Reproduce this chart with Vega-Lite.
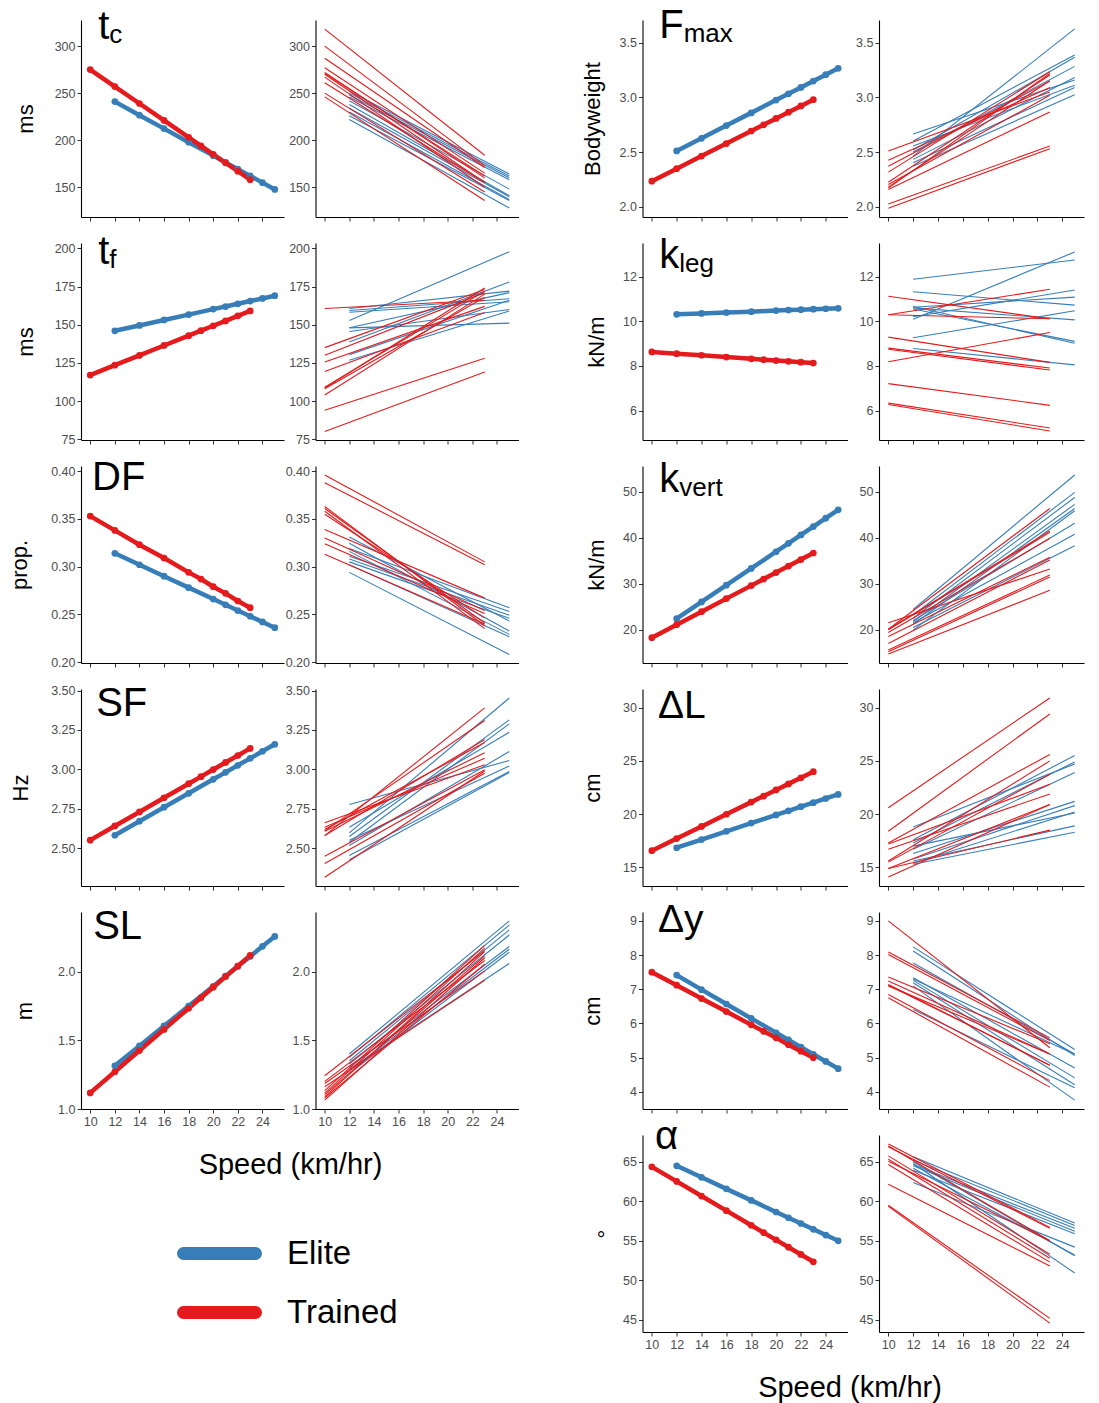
{
"$schema":"https://vega.github.io/schema/vega-lite/v6.json",
"background":"white",
"padding":{"left":8,"top":6,"right":5,"bottom":5},
"config":{
 "font":"Liberation Sans",
 "view":{"stroke":null},
 "axis":{"domainColor":"black","domainWidth":1.1,"tickColor":"#333333","tickSize":4,"tickWidth":1,"labelColor":"#4D4D4D","labelFontSize":12.5,"labelPadding":2,"grid":false,"titleFontWeight":"normal","titleColor":"black","titleFontSize":22,"labelFont":"Liberation Sans","titleFont":"Liberation Sans"},
 "axisY":{"titlePadding":14},
 "legend":{"orient":"none","legendX":96,"legendY":1204,"symbolType":"stroke","symbolStrokeWidth":13,"symbolSize":5184,"labelFontSize":33,"labelColor":"black","labelOffset":25,"rowPadding":0,"clipHeight":59,"labelFont":"Liberation Sans"},
 "title":{"fontWeight":"normal","font":"Liberation Sans","color":"black"}
},
"datasets":{
"tc_m":[{"g":"Elite","s":12,"v":241},{"g":"Elite","s":14,"v":226.6},{"g":"Elite","s":16,"v":212.3},{"g":"Elite","s":18,"v":197.9},{"g":"Elite","s":20,"v":183.6},{"g":"Elite","s":21,"v":176.4},{"g":"Elite","s":22,"v":169.2},{"g":"Elite","s":23,"v":162},{"g":"Elite","s":24,"v":154.9},{"g":"Elite","s":25,"v":147.7},
{"g":"Trained","s":10,"v":275},{"g":"Trained","s":12,"v":257},{"g":"Trained","s":14,"v":239},{"g":"Trained","s":16,"v":221},{"g":"Trained","s":18,"v":203},{"g":"Trained","s":19,"v":194},{"g":"Trained","s":20,"v":185},{"g":"Trained","s":21,"v":176},{"g":"Trained","s":22,"v":167},{"g":"Trained","s":23,"v":158}],
"tc_i":[{"g":"Elite","s0":12,"s1":25,"a":252,"b":164},{"g":"Elite","s0":12,"s1":25,"a":250,"b":162},{"g":"Elite","s0":12,"s1":25,"a":248,"b":160},{"g":"Elite","s0":12,"s1":25,"a":246,"b":158},{"g":"Elite","s0":12,"s1":25,"a":242,"b":148},{"g":"Elite","s0":12,"s1":25,"a":238,"b":141},{"g":"Elite","s0":12,"s1":25,"a":234,"b":140},{"g":"Elite","s0":12,"s1":25,"a":230,"b":137},{"g":"Elite","s0":12,"s1":25,"a":226,"b":136},{"g":"Elite","s0":12,"s1":25,"a":222,"b":128},
{"g":"Trained","s0":10,"s1":23,"a":318,"b":184},{"g":"Trained","s0":10,"s1":23,"a":300,"b":173},{"g":"Trained","s0":10,"s1":23,"a":287,"b":171},{"g":"Trained","s0":10,"s1":23,"a":277,"b":165},{"g":"Trained","s0":10,"s1":23,"a":272,"b":160},{"g":"Trained","s0":10,"s1":23,"a":270,"b":155},{"g":"Trained","s0":10,"s1":23,"a":267,"b":150},{"g":"Trained","s0":10,"s1":23,"a":261,"b":155},{"g":"Trained","s0":10,"s1":23,"a":250,"b":145},{"g":"Trained","s0":10,"s1":23,"a":246,"b":136},{"g":"Trained","s0":10,"s1":23,"a":271,"b":162}],
"tf_m":[{"g":"Elite","s":12,"v":146},{"g":"Elite","s":14,"v":149.5},{"g":"Elite","s":16,"v":153.1},{"g":"Elite","s":18,"v":156.6},{"g":"Elite","s":20,"v":160.2},{"g":"Elite","s":21,"v":161.9},{"g":"Elite","s":22,"v":163.7},{"g":"Elite","s":23,"v":165.5},{"g":"Elite","s":24,"v":167.2},{"g":"Elite","s":25,"v":169},
{"g":"Trained","s":10,"v":117},{"g":"Trained","s":12,"v":123.5},{"g":"Trained","s":14,"v":129.9},{"g":"Trained","s":16,"v":136.4},{"g":"Trained","s":18,"v":142.8},{"g":"Trained","s":19,"v":146.1},{"g":"Trained","s":20,"v":149.3},{"g":"Trained","s":21,"v":152.5},{"g":"Trained","s":22,"v":155.8},{"g":"Trained","s":23,"v":159}],
"tf_i":[{"g":"Elite","s0":12,"s1":25,"a":152.7,"b":197.8},{"g":"Elite","s0":12,"s1":25,"a":160.6,"b":172},{"g":"Elite","s0":12,"s1":25,"a":159.3,"b":167},{"g":"Elite","s0":12,"s1":25,"a":158.2,"b":165},{"g":"Elite","s0":12,"s1":25,"a":147.9,"b":151},{"g":"Elite","s0":12,"s1":25,"a":145.5,"b":160},{"g":"Elite","s0":12,"s1":25,"a":138.7,"b":178},{"g":"Elite","s0":12,"s1":25,"a":130.4,"b":166},{"g":"Elite","s0":12,"s1":25,"a":126.7,"b":159},{"g":"Elite","s0":12,"s1":25,"a":148,"b":171},
{"g":"Trained","s0":10,"s1":23,"a":160.6,"b":166},{"g":"Trained","s0":10,"s1":23,"a":135,"b":173},{"g":"Trained","s0":10,"s1":23,"a":130,"b":171},{"g":"Trained","s0":10,"s1":23,"a":125.6,"b":162},{"g":"Trained","s0":10,"s1":23,"a":119.4,"b":158},{"g":"Trained","s0":10,"s1":23,"a":109,"b":172},{"g":"Trained","s0":10,"s1":23,"a":108,"b":168},{"g":"Trained","s0":10,"s1":23,"a":104,"b":170},{"g":"Trained","s0":10,"s1":23,"a":94,"b":128},{"g":"Trained","s0":10,"s1":23,"a":80,"b":119},{"g":"Trained","s0":10,"s1":23,"a":108.5,"b":174}],
"df_m":[{"g":"Elite","s":12,"v":0.314},{"g":"Elite","s":14,"v":0.302},{"g":"Elite","s":16,"v":0.290},{"g":"Elite","s":18,"v":0.278},{"g":"Elite","s":20,"v":0.266},{"g":"Elite","s":21,"v":0.260},{"g":"Elite","s":22,"v":0.254},{"g":"Elite","s":23,"v":0.248},{"g":"Elite","s":24,"v":0.242},{"g":"Elite","s":25,"v":0.236},
{"g":"Trained","s":10,"v":0.353},{"g":"Trained","s":12,"v":0.338},{"g":"Trained","s":14,"v":0.323},{"g":"Trained","s":16,"v":0.309},{"g":"Trained","s":18,"v":0.294},{"g":"Trained","s":19,"v":0.287},{"g":"Trained","s":20,"v":0.279},{"g":"Trained","s":21,"v":0.272},{"g":"Trained","s":22,"v":0.264},{"g":"Trained","s":23,"v":0.257}],
"df_i":[{"g":"Elite","s0":12,"s1":25,"a":0.331,"b":0.243},{"g":"Elite","s0":12,"s1":25,"a":0.3245,"b":0.2325},{"g":"Elite","s0":12,"s1":25,"a":0.319,"b":0.257},{"g":"Elite","s0":12,"s1":25,"a":0.316,"b":0.229},{"g":"Elite","s0":12,"s1":25,"a":0.311,"b":0.253},{"g":"Elite","s0":12,"s1":25,"a":0.308,"b":0.249},{"g":"Elite","s0":12,"s1":25,"a":0.305,"b":0.246},{"g":"Elite","s0":12,"s1":25,"a":0.294,"b":0.208},{"g":"Elite","s0":12,"s1":25,"a":0.302,"b":0.2265},
{"g":"Trained","s0":10,"s1":23,"a":0.396,"b":0.305},{"g":"Trained","s0":10,"s1":23,"a":0.388,"b":0.302},{"g":"Trained","s0":10,"s1":23,"a":0.363,"b":0.238},{"g":"Trained","s0":10,"s1":23,"a":0.361,"b":0.241},{"g":"Trained","s0":10,"s1":23,"a":0.358,"b":0.235},{"g":"Trained","s0":10,"s1":23,"a":0.355,"b":0.246},{"g":"Trained","s0":10,"s1":23,"a":0.339,"b":0.267},{"g":"Trained","s0":10,"s1":23,"a":0.330,"b":0.254},{"g":"Trained","s0":10,"s1":23,"a":0.324,"b":0.251},{"g":"Trained","s0":10,"s1":23,"a":0.313,"b":0.240}],
"sf_m":[{"g":"Elite","s":12,"v":2.582},{"g":"Elite","s":14,"v":2.671},{"g":"Elite","s":16,"v":2.760},{"g":"Elite","s":18,"v":2.848},{"g":"Elite","s":20,"v":2.937},{"g":"Elite","s":21,"v":2.981},{"g":"Elite","s":22,"v":3.026},{"g":"Elite","s":23,"v":3.070},{"g":"Elite","s":24,"v":3.115},{"g":"Elite","s":25,"v":3.159},
{"g":"Trained","s":10,"v":2.551},{"g":"Trained","s":12,"v":2.641},{"g":"Trained","s":14,"v":2.730},{"g":"Trained","s":16,"v":2.820},{"g":"Trained","s":18,"v":2.909},{"g":"Trained","s":19,"v":2.954},{"g":"Trained","s":20,"v":2.999},{"g":"Trained","s":21,"v":3.044},{"g":"Trained","s":22,"v":3.088},{"g":"Trained","s":23,"v":3.133}],
"sf_i":[{"g":"Elite","s0":12,"s1":25,"a":2.777,"b":3.056},{"g":"Elite","s0":12,"s1":25,"a":2.633,"b":3.236},{"g":"Elite","s0":12,"s1":25,"a":2.597,"b":3.453},{"g":"Elite","s0":12,"s1":25,"a":2.574,"b":3.314},{"g":"Elite","s0":12,"s1":25,"a":2.538,"b":3.289},{"g":"Elite","s0":12,"s1":25,"a":2.517,"b":3.113},{"g":"Elite","s0":12,"s1":25,"a":2.453,"b":2.986},{"g":"Elite","s0":12,"s1":25,"a":2.426,"b":2.98},{"g":"Elite","s0":12,"s1":25,"a":2.55,"b":3.022},
{"g":"Trained","s0":10,"s1":23,"a":2.661,"b":3.03},{"g":"Trained","s0":10,"s1":23,"a":2.633,"b":3.07},{"g":"Trained","s0":10,"s1":23,"a":2.618,"b":3.17},{"g":"Trained","s0":10,"s1":23,"a":2.608,"b":3.105},{"g":"Trained","s0":10,"s1":23,"a":2.58,"b":3.39},{"g":"Trained","s0":10,"s1":23,"a":2.61,"b":3.31},{"g":"Trained","s0":10,"s1":23,"a":2.58,"b":3.19},{"g":"Trained","s0":10,"s1":23,"a":2.449,"b":2.997},{"g":"Trained","s0":10,"s1":23,"a":2.403,"b":2.976},{"g":"Trained","s0":10,"s1":23,"a":2.316,"b":2.99}],
"sl_m":[{"g":"Elite","s":12,"v":1.314},{"g":"Elite","s":14,"v":1.459},{"g":"Elite","s":16,"v":1.604},{"g":"Elite","s":18,"v":1.749},{"g":"Elite","s":20,"v":1.893},{"g":"Elite","s":21,"v":1.966},{"g":"Elite","s":22,"v":2.038},{"g":"Elite","s":23,"v":2.110},{"g":"Elite","s":24,"v":2.183},{"g":"Elite","s":25,"v":2.255},
{"g":"Trained","s":10,"v":1.117},{"g":"Trained","s":12,"v":1.271},{"g":"Trained","s":14,"v":1.425},{"g":"Trained","s":16,"v":1.579},{"g":"Trained","s":18,"v":1.733},{"g":"Trained","s":19,"v":1.809},{"g":"Trained","s":20,"v":1.886},{"g":"Trained","s":21,"v":1.963},{"g":"Trained","s":22,"v":2.040},{"g":"Trained","s":23,"v":2.117}],
"sl_i":[{"g":"Elite","s0":12,"s1":25,"a":1.40,"b":2.368},{"g":"Elite","s0":12,"s1":25,"a":1.375,"b":2.337},{"g":"Elite","s0":12,"s1":25,"a":1.351,"b":2.303},{"g":"Elite","s0":12,"s1":25,"a":1.327,"b":2.266},{"g":"Elite","s0":12,"s1":25,"a":1.303,"b":2.182},{"g":"Elite","s0":12,"s1":25,"a":1.278,"b":2.162},{"g":"Elite","s0":12,"s1":25,"a":1.259,"b":2.14},{"g":"Elite","s0":12,"s1":25,"a":1.29,"b":2.058},
{"g":"Trained","s0":10,"s1":23,"a":1.242,"b":2.15},{"g":"Trained","s0":10,"s1":23,"a":1.201,"b":2.08},{"g":"Trained","s0":10,"s1":23,"a":1.186,"b":2.005},{"g":"Trained","s0":10,"s1":23,"a":1.162,"b":1.937},{"g":"Trained","s0":10,"s1":23,"a":1.133,"b":2.19},{"g":"Trained","s0":10,"s1":23,"a":1.116,"b":2.17},{"g":"Trained","s0":10,"s1":23,"a":1.104,"b":2.114},{"g":"Trained","s0":10,"s1":23,"a":1.090,"b":2.145},{"g":"Trained","s0":10,"s1":23,"a":1.080,"b":2.053},{"g":"Trained","s0":10,"s1":23,"a":1.065,"b":2.10}],
"fm_m":[{"g":"Elite","s":12,"v":2.510},{"g":"Elite","s":14,"v":2.626},{"g":"Elite","s":16,"v":2.743},{"g":"Elite","s":18,"v":2.859},{"g":"Elite","s":20,"v":2.976},{"g":"Elite","s":21,"v":3.034},{"g":"Elite","s":22,"v":3.092},{"g":"Elite","s":23,"v":3.150},{"g":"Elite","s":24,"v":3.209},{"g":"Elite","s":25,"v":3.267},
{"g":"Trained","s":10,"v":2.233},{"g":"Trained","s":12,"v":2.348},{"g":"Trained","s":14,"v":2.463},{"g":"Trained","s":16,"v":2.578},{"g":"Trained","s":18,"v":2.693},{"g":"Trained","s":19,"v":2.750},{"g":"Trained","s":20,"v":2.808},{"g":"Trained","s":21,"v":2.865},{"g":"Trained","s":22,"v":2.923},{"g":"Trained","s":23,"v":2.980}],
"fm_i":[{"g":"Elite","s0":12,"s1":25,"a":2.666,"b":3.16},{"g":"Elite","s0":12,"s1":25,"a":2.601,"b":3.39},{"g":"Elite","s0":12,"s1":25,"a":2.555,"b":3.113},{"g":"Elite","s0":12,"s1":25,"a":2.518,"b":3.368},{"g":"Elite","s0":12,"s1":25,"a":2.463,"b":3.629},{"g":"Elite","s0":12,"s1":25,"a":2.433,"b":3.184},{"g":"Elite","s0":12,"s1":25,"a":2.402,"b":3.092},{"g":"Elite","s0":12,"s1":25,"a":2.371,"b":3.025},{"g":"Elite","s0":12,"s1":25,"a":2.50,"b":3.285},
{"g":"Trained","s0":10,"s1":23,"a":2.509,"b":3.05},{"g":"Trained","s0":10,"s1":23,"a":2.426,"b":3.092},{"g":"Trained","s0":10,"s1":23,"a":2.371,"b":3.15},{"g":"Trained","s0":10,"s1":23,"a":2.316,"b":3.236},{"g":"Trained","s0":10,"s1":23,"a":2.224,"b":3.206},{"g":"Trained","s0":10,"s1":23,"a":2.202,"b":3.02},{"g":"Trained","s0":10,"s1":23,"a":2.181,"b":3.153},{"g":"Trained","s0":10,"s1":23,"a":2.156,"b":2.868},{"g":"Trained","s0":10,"s1":23,"a":2.024,"b":2.555},{"g":"Trained","s0":10,"s1":23,"a":1.985,"b":2.531},{"g":"Trained","s0":10,"s1":23,"a":2.17,"b":3.22}],
"kl_m":[{"g":"Elite","s":12,"v":10.31},{"g":"Elite","s":14,"v":10.35},{"g":"Elite","s":16,"v":10.39},{"g":"Elite","s":18,"v":10.43},{"g":"Elite","s":20,"v":10.48},{"g":"Elite","s":21,"v":10.50},{"g":"Elite","s":22,"v":10.52},{"g":"Elite","s":23,"v":10.54},{"g":"Elite","s":24,"v":10.56},{"g":"Elite","s":25,"v":10.58},
{"g":"Trained","s":10,"v":8.63},{"g":"Trained","s":12,"v":8.55},{"g":"Trained","s":14,"v":8.48},{"g":"Trained","s":16,"v":8.40},{"g":"Trained","s":18,"v":8.32},{"g":"Trained","s":19,"v":8.28},{"g":"Trained","s":20,"v":8.24},{"g":"Trained","s":21,"v":8.21},{"g":"Trained","s":22,"v":8.17},{"g":"Trained","s":23,"v":8.13}],
"kl_i":[{"g":"Elite","s0":12,"s1":25,"a":11.88,"b":12.74},{"g":"Elite","s0":12,"s1":25,"a":10.09,"b":13.10},{"g":"Elite","s0":12,"s1":25,"a":11.32,"b":10.72},{"g":"Elite","s0":12,"s1":25,"a":10.66,"b":9.02},{"g":"Elite","s0":12,"s1":25,"a":10.63,"b":11.08},{"g":"Elite","s0":12,"s1":25,"a":10.2,"b":11.4},{"g":"Elite","s0":12,"s1":25,"a":10.55,"b":9.10},{"g":"Elite","s0":12,"s1":25,"a":10.6,"b":10.06},{"g":"Elite","s0":12,"s1":25,"a":9.26,"b":10.47},{"g":"Elite","s0":12,"s1":25,"a":8.78,"b":8.05},
{"g":"Trained","s0":10,"s1":23,"a":11.12,"b":10.11},{"g":"Trained","s0":10,"s1":23,"a":10.29,"b":11.43},{"g":"Trained","s0":10,"s1":23,"a":10.29,"b":10.11},{"g":"Trained","s0":10,"s1":23,"a":9.29,"b":8.16},{"g":"Trained","s0":10,"s1":23,"a":8.80,"b":7.91},{"g":"Trained","s0":10,"s1":23,"a":8.75,"b":7.82},{"g":"Trained","s0":10,"s1":23,"a":8.19,"b":9.50},{"g":"Trained","s0":10,"s1":23,"a":7.21,"b":6.24},{"g":"Trained","s0":10,"s1":23,"a":6.34,"b":5.23},{"g":"Trained","s0":10,"s1":23,"a":6.28,"b":5.09}],
"kv_m":[{"g":"Elite","s":12,"v":22.4},{"g":"Elite","s":14,"v":26.05},{"g":"Elite","s":16,"v":29.69},{"g":"Elite","s":18,"v":33.34},{"g":"Elite","s":20,"v":36.98},{"g":"Elite","s":21,"v":38.81},{"g":"Elite","s":22,"v":40.63},{"g":"Elite","s":23,"v":42.45},{"g":"Elite","s":24,"v":44.28},{"g":"Elite","s":25,"v":46.1},
{"g":"Trained","s":10,"v":18.26},{"g":"Trained","s":12,"v":21.10},{"g":"Trained","s":14,"v":23.93},{"g":"Trained","s":16,"v":26.77},{"g":"Trained","s":18,"v":29.60},{"g":"Trained","s":19,"v":31.02},{"g":"Trained","s":20,"v":32.44},{"g":"Trained","s":21,"v":33.86},{"g":"Trained","s":22,"v":35.28},{"g":"Trained","s":23,"v":36.70}],
"kv_i":[{"g":"Elite","s0":12,"s1":25,"a":24.4,"b":53.7},{"g":"Elite","s0":12,"s1":25,"a":23.2,"b":49.9},{"g":"Elite","s0":12,"s1":25,"a":22.5,"b":48.8},{"g":"Elite","s0":12,"s1":25,"a":21.8,"b":47.3},{"g":"Elite","s0":12,"s1":25,"a":21.2,"b":46.4},{"g":"Elite","s0":12,"s1":25,"a":19.9,"b":45.9},{"g":"Elite","s0":12,"s1":25,"a":22.0,"b":43.2},{"g":"Elite","s0":12,"s1":25,"a":21.5,"b":40.8},{"g":"Elite","s0":12,"s1":25,"a":20.5,"b":38.3},
{"g":"Trained","s0":10,"s1":23,"a":21.5,"b":33.2},{"g":"Trained","s0":10,"s1":23,"a":20.1,"b":46.4},{"g":"Trained","s0":10,"s1":23,"a":20.1,"b":41.5},{"g":"Trained","s0":10,"s1":23,"a":19.4,"b":39.9},{"g":"Trained","s0":10,"s1":23,"a":18.5,"b":35.8},{"g":"Trained","s0":10,"s1":23,"a":17.0,"b":35.2},{"g":"Trained","s0":10,"s1":23,"a":15.6,"b":31.9},{"g":"Trained","s0":10,"s1":23,"a":15.2,"b":31.5},{"g":"Trained","s0":10,"s1":23,"a":14.7,"b":28.6},{"g":"Trained","s0":10,"s1":23,"a":20.0,"b":41.2}],
"dl_m":[{"g":"Elite","s":12,"v":16.85},{"g":"Elite","s":14,"v":17.62},{"g":"Elite","s":16,"v":18.39},{"g":"Elite","s":18,"v":19.16},{"g":"Elite","s":20,"v":19.93},{"g":"Elite","s":21,"v":20.31},{"g":"Elite","s":22,"v":20.70},{"g":"Elite","s":23,"v":21.08},{"g":"Elite","s":24,"v":21.47},{"g":"Elite","s":25,"v":21.85},
{"g":"Trained","s":10,"v":16.57},{"g":"Trained","s":12,"v":17.71},{"g":"Trained","s":14,"v":18.85},{"g":"Trained","s":16,"v":19.99},{"g":"Trained","s":18,"v":21.13},{"g":"Trained","s":19,"v":21.70},{"g":"Trained","s":20,"v":22.27},{"g":"Trained","s":21,"v":22.84},{"g":"Trained","s":22,"v":23.41},{"g":"Trained","s":23,"v":23.98}],
"dl_i":[{"g":"Elite","s0":12,"s1":25,"a":18.8,"b":24.7},{"g":"Elite","s0":12,"s1":25,"a":17.6,"b":25.5},{"g":"Elite","s0":12,"s1":25,"a":17.3,"b":24.9},{"g":"Elite","s0":12,"s1":25,"a":16.7,"b":23.9},{"g":"Elite","s0":12,"s1":25,"a":16.3,"b":21.2},{"g":"Elite","s0":12,"s1":25,"a":15.8,"b":20.8},{"g":"Elite","s0":12,"s1":25,"a":15.4,"b":20.2},{"g":"Elite","s0":12,"s1":25,"a":17.0,"b":20.1},{"g":"Elite","s0":12,"s1":25,"a":15.6,"b":18.9},{"g":"Elite","s0":12,"s1":25,"a":15.3,"b":18.3},
{"g":"Trained","s0":10,"s1":23,"a":20.6,"b":30.9},{"g":"Trained","s0":10,"s1":23,"a":18.4,"b":29.4},{"g":"Trained","s0":10,"s1":23,"a":17.3,"b":25.6},{"g":"Trained","s0":10,"s1":23,"a":17.2,"b":22.8},{"g":"Trained","s0":10,"s1":23,"a":16.7,"b":21.9},{"g":"Trained","s0":10,"s1":23,"a":15.6,"b":25.0},{"g":"Trained","s0":10,"s1":23,"a":15.5,"b":23.75},{"g":"Trained","s0":10,"s1":23,"a":14.9,"b":20.9},{"g":"Trained","s0":10,"s1":23,"a":14.1,"b":20.9},{"g":"Trained","s0":10,"s1":23,"a":14.9,"b":18.5}],
"dy_m":[{"g":"Elite","s":12,"v":7.415},{"g":"Elite","s":14,"v":6.99},{"g":"Elite","s":16,"v":6.57},{"g":"Elite","s":18,"v":6.15},{"g":"Elite","s":20,"v":5.73},{"g":"Elite","s":21,"v":5.52},{"g":"Elite","s":22,"v":5.31},{"g":"Elite","s":23,"v":5.10},{"g":"Elite","s":24,"v":4.89},{"g":"Elite","s":25,"v":4.68},
{"g":"Trained","s":10,"v":7.50},{"g":"Trained","s":12,"v":7.12},{"g":"Trained","s":14,"v":6.73},{"g":"Trained","s":16,"v":6.35},{"g":"Trained","s":18,"v":5.96},{"g":"Trained","s":19,"v":5.77},{"g":"Trained","s":20,"v":5.58},{"g":"Trained","s":21,"v":5.38},{"g":"Trained","s":22,"v":5.19},{"g":"Trained","s":23,"v":5.00}],
"dy_i":[{"g":"Elite","s0":12,"s1":25,"a":8.24,"b":5.24},{"g":"Elite","s0":12,"s1":25,"a":8.12,"b":5.06},{"g":"Elite","s0":12,"s1":25,"a":7.77,"b":5.11},{"g":"Elite","s0":12,"s1":25,"a":7.34,"b":4.70},{"g":"Elite","s0":12,"s1":25,"a":7.26,"b":4.41},{"g":"Elite","s0":12,"s1":25,"a":7.19,"b":4.21},{"g":"Elite","s0":12,"s1":25,"a":6.41,"b":4.12},{"g":"Elite","s0":12,"s1":25,"a":7.10,"b":3.76},{"g":"Elite","s0":12,"s1":25,"a":7.30,"b":5.10},
{"g":"Trained","s0":10,"s1":23,"a":9.0,"b":5.29},{"g":"Trained","s0":10,"s1":23,"a":8.09,"b":5.58},{"g":"Trained","s0":10,"s1":23,"a":8.02,"b":5.50},{"g":"Trained","s0":10,"s1":23,"a":7.36,"b":5.41},{"g":"Trained","s0":10,"s1":23,"a":7.24,"b":5.11},{"g":"Trained","s0":10,"s1":23,"a":7.14,"b":4.78},{"g":"Trained","s0":10,"s1":23,"a":7.10,"b":5.11},{"g":"Trained","s0":10,"s1":23,"a":6.85,"b":4.33},{"g":"Trained","s0":10,"s1":23,"a":6.75,"b":4.14},{"g":"Trained","s0":10,"s1":23,"a":7.12,"b":4.78}],
"al_m":[{"g":"Elite","s":12,"v":64.5},{"g":"Elite","s":14,"v":63.04},{"g":"Elite","s":16,"v":61.58},{"g":"Elite","s":18,"v":60.12},{"g":"Elite","s":20,"v":58.65},{"g":"Elite","s":21,"v":57.92},{"g":"Elite","s":22,"v":57.19},{"g":"Elite","s":23,"v":56.46},{"g":"Elite","s":24,"v":55.73},{"g":"Elite","s":25,"v":55.0},
{"g":"Trained","s":10,"v":64.37},{"g":"Trained","s":12,"v":62.52},{"g":"Trained","s":14,"v":60.67},{"g":"Trained","s":16,"v":58.82},{"g":"Trained","s":18,"v":56.97},{"g":"Trained","s":19,"v":56.04},{"g":"Trained","s":20,"v":55.12},{"g":"Trained","s":21,"v":54.19},{"g":"Trained","s":22,"v":53.27},{"g":"Trained","s":23,"v":52.34}],
"al_i":[{"g":"Elite","s0":12,"s1":25,"a":65.64,"b":57.25},{"g":"Elite","s0":12,"s1":25,"a":65.21,"b":56.95},{"g":"Elite","s0":12,"s1":25,"a":64.66,"b":56.6},{"g":"Elite","s0":12,"s1":25,"a":64.5,"b":56.2},{"g":"Elite","s0":12,"s1":25,"a":63.94,"b":55.9},{"g":"Elite","s0":12,"s1":25,"a":62.37,"b":54.2},{"g":"Elite","s0":12,"s1":25,"a":64.2,"b":53.2},{"g":"Elite","s0":12,"s1":25,"a":64.8,"b":50.93},{"g":"Elite","s0":12,"s1":25,"a":65.0,"b":53.1},
{"g":"Trained","s0":10,"s1":23,"a":67.25,"b":56.7},{"g":"Trained","s0":10,"s1":23,"a":67.0,"b":55.0},{"g":"Trained","s0":10,"s1":23,"a":65.76,"b":53.3},{"g":"Trained","s0":10,"s1":23,"a":65.34,"b":52.8},{"g":"Trained","s0":10,"s1":23,"a":65.08,"b":55.0},{"g":"Trained","s0":10,"s1":23,"a":64.66,"b":52.3},{"g":"Trained","s0":10,"s1":23,"a":62.16,"b":51.8},{"g":"Trained","s0":10,"s1":23,"a":59.5,"b":45.17},{"g":"Trained","s0":10,"s1":23,"a":59.36,"b":44.58},{"g":"Trained","s0":10,"s1":23,"a":66.9,"b":56.6}]
},
"columns":5,
"spacing":{"row":26,"column":31.5},
"bounds":"flush",
"concat":[
  {"width":203,"height":197,"data":{"name":"tc_m"},
   "layer":[
    {"mark":{"type":"line","strokeWidth":4.5},"encoding":{"x":{"field":"s","type":"quantitative","scale":{"domain":[9.25,25.75],"nice":false,"zero":false},"axis":{"values":[10,12,14,16,18,20,22,24],"labels":false,"title":null}},"y":{"field":"v","type":"quantitative","scale":{"domain":[118.4,327.7],"nice":false,"zero":false},"axis":{"values":[150,200,250,300],"title":"ms","titlePadding":17}},"color":{"field":"g","type":"nominal","title":null,"scale":{"domain":["Elite","Trained"],"range":["#377EB8","#E41A1C"]},"legend":{"encode":{"symbols":{"update":{"strokeCap":{"value":"round"}}}}}}}},
    {"mark":{"type":"point","filled":true,"size":45,"opacity":1},"encoding":{"x":{"field":"s","type":"quantitative","scale":{"domain":[9.25,25.75],"nice":false,"zero":false},"axis":{"values":[10,12,14,16,18,20,22,24],"labels":false,"title":null}},"y":{"field":"v","type":"quantitative","scale":{"domain":[118.4,327.7],"nice":false,"zero":false},"axis":{"values":[150,200,250,300],"title":"ms","titlePadding":17}},"color":{"field":"g","type":"nominal","title":null}}},
    {"data":{"values":[{"t":"t"}]},"mark":{"type":"text","fontSize":40,"align":"left","baseline":"alphabetic","color":"black"},"encoding":{"x":{"datum":10.65,"type":"quantitative","scale":{"domain":[9.25,25.75],"nice":false,"zero":false},"axis":{"values":[10,12,14,16,18,20,22,24],"labels":false,"title":null}},"y":{"datum":307.5,"type":"quantitative","scale":{"domain":[118.4,327.7],"nice":false,"zero":false},"axis":{"values":[150,200,250,300],"title":"ms","titlePadding":17}},"text":{"field":"t","type":"nominal"}}},
    {"data":{"values":[{"t":"c"}]},"mark":{"type":"text","fontSize":26,"align":"left","baseline":"alphabetic","dx":11.1,"dy":4,"color":"black"},"encoding":{"x":{"datum":10.65,"type":"quantitative","scale":{"domain":[9.25,25.75],"nice":false,"zero":false},"axis":{"values":[10,12,14,16,18,20,22,24],"labels":false,"title":null}},"y":{"datum":307.5,"type":"quantitative","scale":{"domain":[118.4,327.7],"nice":false,"zero":false},"axis":{"values":[150,200,250,300],"title":"ms","titlePadding":17}},"text":{"field":"t","type":"nominal"}}}
   ]},
  {"width":203,"height":197,"data":{"name":"tc_i"},"mark":{"type":"rule","strokeWidth":1.1},
   "encoding":{"x":{"field":"s0","type":"quantitative","scale":{"domain":[9.25,25.75],"nice":false,"zero":false},"axis":{"values":[10,12,14,16,18,20,22,24],"labels":false,"title":null}},"x2":{"field":"s1"},
    "y":{"field":"a","type":"quantitative","scale":{"domain":[118.4,327.7],"nice":false,"zero":false},"axis":{"values":[150,200,250,300],"title":null}},"y2":{"field":"b"},
    "color":{"field":"g","type":"nominal","title":null,"scale":{"domain":["Elite","Trained"],"range":["#377EB8","#E41A1C"]}}}},
  {"width":61,"height":197,"data":{"values":[]},"mark":{"type":"point","opacity":0}},
  {"width":205,"height":197,"data":{"name":"fm_m"},
   "layer":[
    {"mark":{"type":"line","strokeWidth":4.5},"encoding":{"x":{"field":"s","type":"quantitative","scale":{"domain":[9.25,25.75],"nice":false,"zero":false},"axis":{"values":[10,12,14,16,18,20,22,24],"labels":false,"title":null}},"y":{"field":"v","type":"quantitative","scale":{"domain":[1.905,3.71],"nice":false,"zero":false},"axis":{"values":[2,2.5,3,3.5],"format":".1f","title":"Bodyweight","titlePadding":15}},"color":{"field":"g","type":"nominal","title":null,"scale":{"domain":["Elite","Trained"],"range":["#377EB8","#E41A1C"]}}}},
    {"mark":{"type":"point","filled":true,"size":45,"opacity":1},"encoding":{"x":{"field":"s","type":"quantitative","scale":{"domain":[9.25,25.75],"nice":false,"zero":false},"axis":{"values":[10,12,14,16,18,20,22,24],"labels":false,"title":null}},"y":{"field":"v","type":"quantitative","scale":{"domain":[1.905,3.71],"nice":false,"zero":false},"axis":{"values":[2,2.5,3,3.5],"format":".1f","title":"Bodyweight","titlePadding":15}},"color":{"field":"g","type":"nominal","title":null}}},
    {"data":{"values":[{"t":"F"}]},"mark":{"type":"text","fontSize":40,"align":"left","baseline":"alphabetic","color":"black"},"encoding":{"x":{"datum":10.6,"type":"quantitative","scale":{"domain":[9.25,25.75],"nice":false,"zero":false},"axis":{"values":[10,12,14,16,18,20,22,24],"labels":false,"title":null}},"y":{"datum":3.545,"type":"quantitative","scale":{"domain":[1.905,3.71],"nice":false,"zero":false},"axis":{"values":[2,2.5,3,3.5],"format":".1f","title":"Bodyweight","titlePadding":15}},"text":{"field":"t","type":"nominal"}}},
    {"data":{"values":[{"t":"max"}]},"mark":{"type":"text","fontSize":26,"align":"left","baseline":"alphabetic","dx":24.4,"dy":4,"color":"black"},"encoding":{"x":{"datum":10.6,"type":"quantitative","scale":{"domain":[9.25,25.75],"nice":false,"zero":false},"axis":{"values":[10,12,14,16,18,20,22,24],"labels":false,"title":null}},"y":{"datum":3.545,"type":"quantitative","scale":{"domain":[1.905,3.71],"nice":false,"zero":false},"axis":{"values":[2,2.5,3,3.5],"format":".1f","title":"Bodyweight","titlePadding":15}},"text":{"field":"t","type":"nominal"}}}
   ]},
  {"width":205,"height":197,"data":{"name":"fm_i"},"mark":{"type":"rule","strokeWidth":1.1},
   "encoding":{"x":{"field":"s0","type":"quantitative","scale":{"domain":[9.25,25.75],"nice":false,"zero":false},"axis":{"values":[10,12,14,16,18,20,22,24],"labels":false,"title":null}},"x2":{"field":"s1"},
    "y":{"field":"a","type":"quantitative","scale":{"domain":[1.905,3.71],"nice":false,"zero":false},"axis":{"values":[2,2.5,3,3.5],"format":".1f","title":null}},"y2":{"field":"b"},
    "color":{"field":"g","type":"nominal","title":null,"scale":{"domain":["Elite","Trained"],"range":["#377EB8","#E41A1C"]}}}},

  {"width":203,"height":197,"data":{"name":"tf_m"},
   "layer":[
    {"mark":{"type":"line","strokeWidth":4.5},"encoding":{"x":{"field":"s","type":"quantitative","scale":{"domain":[9.25,25.75],"nice":false,"zero":false},"axis":{"values":[10,12,14,16,18,20,22,24],"labels":false,"title":null}},"y":{"field":"v","type":"quantitative","scale":{"domain":[74.5,203.5],"nice":false,"zero":false},"axis":{"values":[75,100,125,150,175,200],"title":"ms","titlePadding":17}},"color":{"field":"g","type":"nominal","title":null,"scale":{"domain":["Elite","Trained"],"range":["#377EB8","#E41A1C"]}}}},
    {"mark":{"type":"point","filled":true,"size":45,"opacity":1},"encoding":{"x":{"field":"s","type":"quantitative","scale":{"domain":[9.25,25.75],"nice":false,"zero":false},"axis":{"values":[10,12,14,16,18,20,22,24],"labels":false,"title":null}},"y":{"field":"v","type":"quantitative","scale":{"domain":[74.5,203.5],"nice":false,"zero":false},"axis":{"values":[75,100,125,150,175,200],"title":"ms","titlePadding":17}},"color":{"field":"g","type":"nominal","title":null}}},
    {"data":{"values":[{"t":"t"}]},"mark":{"type":"text","fontSize":40,"align":"left","baseline":"alphabetic","color":"black"},"encoding":{"x":{"datum":10.65,"type":"quantitative","scale":{"domain":[9.25,25.75],"nice":false,"zero":false},"axis":{"values":[10,12,14,16,18,20,22,24],"labels":false,"title":null}},"y":{"datum":189.75,"type":"quantitative","scale":{"domain":[74.5,203.5],"nice":false,"zero":false},"axis":{"values":[75,100,125,150,175,200],"title":"ms","titlePadding":17}},"text":{"field":"t","type":"nominal"}}},
    {"data":{"values":[{"t":"f"}]},"mark":{"type":"text","fontSize":26,"align":"left","baseline":"alphabetic","dx":11.1,"dy":4,"color":"black"},"encoding":{"x":{"datum":10.65,"type":"quantitative","scale":{"domain":[9.25,25.75],"nice":false,"zero":false},"axis":{"values":[10,12,14,16,18,20,22,24],"labels":false,"title":null}},"y":{"datum":189.75,"type":"quantitative","scale":{"domain":[74.5,203.5],"nice":false,"zero":false},"axis":{"values":[75,100,125,150,175,200],"title":"ms","titlePadding":17}},"text":{"field":"t","type":"nominal"}}}
   ]},
  {"width":203,"height":197,"data":{"name":"tf_i"},"mark":{"type":"rule","strokeWidth":1.1},
   "encoding":{"x":{"field":"s0","type":"quantitative","scale":{"domain":[9.25,25.75],"nice":false,"zero":false},"axis":{"values":[10,12,14,16,18,20,22,24],"labels":false,"title":null}},"x2":{"field":"s1"},
    "y":{"field":"a","type":"quantitative","scale":{"domain":[74.5,203.5],"nice":false,"zero":false},"axis":{"values":[75,100,125,150,175,200],"title":null}},"y2":{"field":"b"},
    "color":{"field":"g","type":"nominal","title":null,"scale":{"domain":["Elite","Trained"],"range":["#377EB8","#E41A1C"]}}}},
  {"width":61,"height":197,"data":{"values":[]},"mark":{"type":"point","opacity":0}},
  {"width":205,"height":197,"data":{"name":"kl_m"},
   "layer":[
    {"mark":{"type":"line","strokeWidth":4.5},"encoding":{"x":{"field":"s","type":"quantitative","scale":{"domain":[9.25,25.75],"nice":false,"zero":false},"axis":{"values":[10,12,14,16,18,20,22,24],"labels":false,"title":null}},"y":{"field":"v","type":"quantitative","scale":{"domain":[4.69,13.5],"nice":false,"zero":false},"axis":{"values":[6,8,10,12],"title":"kN/m"}},"color":{"field":"g","type":"nominal","title":null,"scale":{"domain":["Elite","Trained"],"range":["#377EB8","#E41A1C"]}}}},
    {"mark":{"type":"point","filled":true,"size":45,"opacity":1},"encoding":{"x":{"field":"s","type":"quantitative","scale":{"domain":[9.25,25.75],"nice":false,"zero":false},"axis":{"values":[10,12,14,16,18,20,22,24],"labels":false,"title":null}},"y":{"field":"v","type":"quantitative","scale":{"domain":[4.69,13.5],"nice":false,"zero":false},"axis":{"values":[6,8,10,12],"title":"kN/m"}},"color":{"field":"g","type":"nominal","title":null}}},
    {"data":{"values":[{"t":"k"}]},"mark":{"type":"text","fontSize":40,"align":"left","baseline":"alphabetic","color":"black"},"encoding":{"x":{"datum":10.6,"type":"quantitative","scale":{"domain":[9.25,25.75],"nice":false,"zero":false},"axis":{"values":[10,12,14,16,18,20,22,24],"labels":false,"title":null}},"y":{"datum":12.38,"type":"quantitative","scale":{"domain":[4.69,13.5],"nice":false,"zero":false},"axis":{"values":[6,8,10,12],"title":"kN/m"}},"text":{"field":"t","type":"nominal"}}},
    {"data":{"values":[{"t":"leg"}]},"mark":{"type":"text","fontSize":26,"align":"left","baseline":"alphabetic","dx":20,"dy":4,"color":"black"},"encoding":{"x":{"datum":10.6,"type":"quantitative","scale":{"domain":[9.25,25.75],"nice":false,"zero":false},"axis":{"values":[10,12,14,16,18,20,22,24],"labels":false,"title":null}},"y":{"datum":12.38,"type":"quantitative","scale":{"domain":[4.69,13.5],"nice":false,"zero":false},"axis":{"values":[6,8,10,12],"title":"kN/m"}},"text":{"field":"t","type":"nominal"}}}
   ]},
  {"width":205,"height":197,"data":{"name":"kl_i"},"mark":{"type":"rule","strokeWidth":1.1},
   "encoding":{"x":{"field":"s0","type":"quantitative","scale":{"domain":[9.25,25.75],"nice":false,"zero":false},"axis":{"values":[10,12,14,16,18,20,22,24],"labels":false,"title":null}},"x2":{"field":"s1"},
    "y":{"field":"a","type":"quantitative","scale":{"domain":[4.69,13.5],"nice":false,"zero":false},"axis":{"values":[6,8,10,12],"title":null}},"y2":{"field":"b"},
    "color":{"field":"g","type":"nominal","title":null,"scale":{"domain":["Elite","Trained"],"range":["#377EB8","#E41A1C"]}}}},

  {"width":203,"height":197,"data":{"name":"df_m"},
   "layer":[
    {"mark":{"type":"line","strokeWidth":4.5},"encoding":{"x":{"field":"s","type":"quantitative","scale":{"domain":[9.25,25.75],"nice":false,"zero":false},"axis":{"values":[10,12,14,16,18,20,22,24],"labels":false,"title":null}},"y":{"field":"v","type":"quantitative","scale":{"domain":[0.199,0.4055],"nice":false,"zero":false},"axis":{"values":[0.2,0.25,0.3,0.35,0.4],"format":".2f","title":"prop.","titlePadding":19}},"color":{"field":"g","type":"nominal","title":null,"scale":{"domain":["Elite","Trained"],"range":["#377EB8","#E41A1C"]}}}},
    {"mark":{"type":"point","filled":true,"size":45,"opacity":1},"encoding":{"x":{"field":"s","type":"quantitative","scale":{"domain":[9.25,25.75],"nice":false,"zero":false},"axis":{"values":[10,12,14,16,18,20,22,24],"labels":false,"title":null}},"y":{"field":"v","type":"quantitative","scale":{"domain":[0.199,0.4055],"nice":false,"zero":false},"axis":{"values":[0.2,0.25,0.3,0.35,0.4],"format":".2f","title":"prop.","titlePadding":19}},"color":{"field":"g","type":"nominal","title":null}}},
    {"data":{"values":[{"t":"DF"}]},"mark":{"type":"text","fontSize":40,"align":"left","baseline":"alphabetic","color":"black"},"encoding":{"x":{"datum":10.15,"type":"quantitative","scale":{"domain":[9.25,25.75],"nice":false,"zero":false},"axis":{"values":[10,12,14,16,18,20,22,24],"labels":false,"title":null}},"y":{"datum":0.3803,"type":"quantitative","scale":{"domain":[0.199,0.4055],"nice":false,"zero":false},"axis":{"values":[0.2,0.25,0.3,0.35,0.4],"format":".2f","title":"prop.","titlePadding":19}},"text":{"field":"t","type":"nominal"}}}
   ]},
  {"width":203,"height":197,"data":{"name":"df_i"},"mark":{"type":"rule","strokeWidth":1.1},
   "encoding":{"x":{"field":"s0","type":"quantitative","scale":{"domain":[9.25,25.75],"nice":false,"zero":false},"axis":{"values":[10,12,14,16,18,20,22,24],"labels":false,"title":null}},"x2":{"field":"s1"},
    "y":{"field":"a","type":"quantitative","scale":{"domain":[0.199,0.4055],"nice":false,"zero":false},"axis":{"values":[0.2,0.25,0.3,0.35,0.4],"format":".2f","title":null}},"y2":{"field":"b"},
    "color":{"field":"g","type":"nominal","title":null,"scale":{"domain":["Elite","Trained"],"range":["#377EB8","#E41A1C"]}}}},
  {"width":61,"height":197,"data":{"values":[]},"mark":{"type":"point","opacity":0}},
  {"width":205,"height":197,"data":{"name":"kv_m"},
   "layer":[
    {"mark":{"type":"line","strokeWidth":4.5},"encoding":{"x":{"field":"s","type":"quantitative","scale":{"domain":[9.25,25.75],"nice":false,"zero":false},"axis":{"values":[10,12,14,16,18,20,22,24],"labels":false,"title":null}},"y":{"field":"v","type":"quantitative","scale":{"domain":[12.75,55.65],"nice":false,"zero":false},"axis":{"values":[20,30,40,50],"title":"kN/m"}},"color":{"field":"g","type":"nominal","title":null,"scale":{"domain":["Elite","Trained"],"range":["#377EB8","#E41A1C"]}}}},
    {"mark":{"type":"point","filled":true,"size":45,"opacity":1},"encoding":{"x":{"field":"s","type":"quantitative","scale":{"domain":[9.25,25.75],"nice":false,"zero":false},"axis":{"values":[10,12,14,16,18,20,22,24],"labels":false,"title":null}},"y":{"field":"v","type":"quantitative","scale":{"domain":[12.75,55.65],"nice":false,"zero":false},"axis":{"values":[20,30,40,50],"title":"kN/m"}},"color":{"field":"g","type":"nominal","title":null}}},
    {"data":{"values":[{"t":"k"}]},"mark":{"type":"text","fontSize":40,"align":"left","baseline":"alphabetic","color":"black"},"encoding":{"x":{"datum":10.6,"type":"quantitative","scale":{"domain":[9.25,25.75],"nice":false,"zero":false},"axis":{"values":[10,12,14,16,18,20,22,24],"labels":false,"title":null}},"y":{"datum":49.99,"type":"quantitative","scale":{"domain":[12.75,55.65],"nice":false,"zero":false},"axis":{"values":[20,30,40,50],"title":"kN/m"}},"text":{"field":"t","type":"nominal"}}},
    {"data":{"values":[{"t":"vert"}]},"mark":{"type":"text","fontSize":26,"align":"left","baseline":"alphabetic","dx":20,"dy":4,"color":"black"},"encoding":{"x":{"datum":10.6,"type":"quantitative","scale":{"domain":[9.25,25.75],"nice":false,"zero":false},"axis":{"values":[10,12,14,16,18,20,22,24],"labels":false,"title":null}},"y":{"datum":49.99,"type":"quantitative","scale":{"domain":[12.75,55.65],"nice":false,"zero":false},"axis":{"values":[20,30,40,50],"title":"kN/m"}},"text":{"field":"t","type":"nominal"}}}
   ]},
  {"width":205,"height":197,"data":{"name":"kv_i"},"mark":{"type":"rule","strokeWidth":1.1},
   "encoding":{"x":{"field":"s0","type":"quantitative","scale":{"domain":[9.25,25.75],"nice":false,"zero":false},"axis":{"values":[10,12,14,16,18,20,22,24],"labels":false,"title":null}},"x2":{"field":"s1"},
    "y":{"field":"a","type":"quantitative","scale":{"domain":[12.75,55.65],"nice":false,"zero":false},"axis":{"values":[20,30,40,50],"title":null}},"y2":{"field":"b"},
    "color":{"field":"g","type":"nominal","title":null,"scale":{"domain":["Elite","Trained"],"range":["#377EB8","#E41A1C"]}}}},

  {"width":203,"height":197,"data":{"name":"sf_m"},
   "layer":[
    {"mark":{"type":"line","strokeWidth":4.5},"encoding":{"x":{"field":"s","type":"quantitative","scale":{"domain":[9.25,25.75],"nice":false,"zero":false},"axis":{"values":[10,12,14,16,18,20,22,24],"labels":false,"title":null}},"y":{"field":"v","type":"quantitative","scale":{"domain":[2.26,3.51],"nice":false,"zero":false},"axis":{"values":[2.5,2.75,3,3.25,3.5],"format":".2f","title":"Hz","titlePadding":18}},"color":{"field":"g","type":"nominal","title":null,"scale":{"domain":["Elite","Trained"],"range":["#377EB8","#E41A1C"]}}}},
    {"mark":{"type":"point","filled":true,"size":45,"opacity":1},"encoding":{"x":{"field":"s","type":"quantitative","scale":{"domain":[9.25,25.75],"nice":false,"zero":false},"axis":{"values":[10,12,14,16,18,20,22,24],"labels":false,"title":null}},"y":{"field":"v","type":"quantitative","scale":{"domain":[2.26,3.51],"nice":false,"zero":false},"axis":{"values":[2.5,2.75,3,3.25,3.5],"format":".2f","title":"Hz","titlePadding":18}},"color":{"field":"g","type":"nominal","title":null}}},
    {"data":{"values":[{"t":"SF"}]},"mark":{"type":"text","fontSize":40,"align":"left","baseline":"alphabetic","color":"black"},"encoding":{"x":{"datum":10.48,"type":"quantitative","scale":{"domain":[9.25,25.75],"nice":false,"zero":false},"axis":{"values":[10,12,14,16,18,20,22,24],"labels":false,"title":null}},"y":{"datum":3.339,"type":"quantitative","scale":{"domain":[2.26,3.51],"nice":false,"zero":false},"axis":{"values":[2.5,2.75,3,3.25,3.5],"format":".2f","title":"Hz","titlePadding":18}},"text":{"field":"t","type":"nominal"}}}
   ]},
  {"width":203,"height":197,"data":{"name":"sf_i"},"mark":{"type":"rule","strokeWidth":1.1},
   "encoding":{"x":{"field":"s0","type":"quantitative","scale":{"domain":[9.25,25.75],"nice":false,"zero":false},"axis":{"values":[10,12,14,16,18,20,22,24],"labels":false,"title":null}},"x2":{"field":"s1"},
    "y":{"field":"a","type":"quantitative","scale":{"domain":[2.26,3.51],"nice":false,"zero":false},"axis":{"values":[2.5,2.75,3,3.25,3.5],"format":".2f","title":null}},"y2":{"field":"b"},
    "color":{"field":"g","type":"nominal","title":null,"scale":{"domain":["Elite","Trained"],"range":["#377EB8","#E41A1C"]}}}},
  {"width":61,"height":197,"data":{"values":[]},"mark":{"type":"point","opacity":0}},
  {"width":205,"height":197,"data":{"name":"dl_m"},
   "layer":[
    {"mark":{"type":"line","strokeWidth":4.5},"encoding":{"x":{"field":"s","type":"quantitative","scale":{"domain":[9.25,25.75],"nice":false,"zero":false},"axis":{"values":[10,12,14,16,18,20,22,24],"labels":false,"title":null}},"y":{"field":"v","type":"quantitative","scale":{"domain":[13.26,31.74],"nice":false,"zero":false},"axis":{"values":[15,20,25,30],"title":"cm","titlePadding":18}},"color":{"field":"g","type":"nominal","title":null,"scale":{"domain":["Elite","Trained"],"range":["#377EB8","#E41A1C"]}}}},
    {"mark":{"type":"point","filled":true,"size":45,"opacity":1},"encoding":{"x":{"field":"s","type":"quantitative","scale":{"domain":[9.25,25.75],"nice":false,"zero":false},"axis":{"values":[10,12,14,16,18,20,22,24],"labels":false,"title":null}},"y":{"field":"v","type":"quantitative","scale":{"domain":[13.26,31.74],"nice":false,"zero":false},"axis":{"values":[15,20,25,30],"title":"cm","titlePadding":18}},"color":{"field":"g","type":"nominal","title":null}}},
    {"data":{"values":[{"t":"ΔL"}]},"mark":{"type":"text","fontSize":39,"align":"left","baseline":"alphabetic","color":"black"},"encoding":{"x":{"datum":10.49,"type":"quantitative","scale":{"domain":[9.25,25.75],"nice":false,"zero":false},"axis":{"values":[10,12,14,16,18,20,22,24],"labels":false,"title":null}},"y":{"datum":29.02,"type":"quantitative","scale":{"domain":[13.26,31.74],"nice":false,"zero":false},"axis":{"values":[15,20,25,30],"title":"cm","titlePadding":18}},"text":{"field":"t","type":"nominal"}}}
   ]},
  {"width":205,"height":197,"data":{"name":"dl_i"},"mark":{"type":"rule","strokeWidth":1.1},
   "encoding":{"x":{"field":"s0","type":"quantitative","scale":{"domain":[9.25,25.75],"nice":false,"zero":false},"axis":{"values":[10,12,14,16,18,20,22,24],"labels":false,"title":null}},"x2":{"field":"s1"},
    "y":{"field":"a","type":"quantitative","scale":{"domain":[13.26,31.74],"nice":false,"zero":false},"axis":{"values":[15,20,25,30],"title":null}},"y2":{"field":"b"},
    "color":{"field":"g","type":"nominal","title":null,"scale":{"domain":["Elite","Trained"],"range":["#377EB8","#E41A1C"]}}}},

  {"width":203,"height":197,"data":{"name":"sl_m"},
   "layer":[
    {"mark":{"type":"line","strokeWidth":4.5},"encoding":{"x":{"field":"s","type":"quantitative","scale":{"domain":[9.25,25.75],"nice":false,"zero":false},"axis":{"values":[10,12,14,16,18,20,22,24],"title":"Speed (km/hr)","titleFontSize":29,"titleX":209,"titleY":64,"titleAlign":"center","titleBaseline":"alphabetic"}},"y":{"field":"v","type":"quantitative","scale":{"domain":[1.0,2.433],"nice":false,"zero":false},"axis":{"values":[1,1.5,2],"format":".1f","title":"m","titlePadding":21}},"color":{"field":"g","type":"nominal","title":null,"scale":{"domain":["Elite","Trained"],"range":["#377EB8","#E41A1C"]}}}},
    {"mark":{"type":"point","filled":true,"size":45,"opacity":1},"encoding":{"x":{"field":"s","type":"quantitative","scale":{"domain":[9.25,25.75],"nice":false,"zero":false},"axis":{"values":[10,12,14,16,18,20,22,24],"title":"Speed (km/hr)","titleFontSize":29,"titleX":209,"titleY":64,"titleAlign":"center","titleBaseline":"alphabetic"}},"y":{"field":"v","type":"quantitative","scale":{"domain":[1.0,2.433],"nice":false,"zero":false},"axis":{"values":[1,1.5,2],"format":".1f","title":"m","titlePadding":21}},"color":{"field":"g","type":"nominal","title":null}}},
    {"data":{"values":[{"t":"SL"}]},"mark":{"type":"text","fontSize":40,"align":"left","baseline":"alphabetic","color":"black"},"encoding":{"x":{"datum":10.24,"type":"quantitative","scale":{"domain":[9.25,25.75],"nice":false,"zero":false},"axis":{"values":[10,12,14,16,18,20,22,24],"title":"Speed (km/hr)","titleFontSize":29,"titleX":209,"titleY":64,"titleAlign":"center","titleBaseline":"alphabetic"}},"y":{"datum":2.237,"type":"quantitative","scale":{"domain":[1.0,2.433],"nice":false,"zero":false},"axis":{"values":[1,1.5,2],"format":".1f","title":"m","titlePadding":21}},"text":{"field":"t","type":"nominal"}}}
   ]},
  {"width":203,"height":197,"data":{"name":"sl_i"},"mark":{"type":"rule","strokeWidth":1.1},
   "encoding":{"x":{"field":"s0","type":"quantitative","scale":{"domain":[9.25,25.75],"nice":false,"zero":false},"axis":{"values":[10,12,14,16,18,20,22,24],"title":null}},"x2":{"field":"s1"},
    "y":{"field":"a","type":"quantitative","scale":{"domain":[1.0,2.433],"nice":false,"zero":false},"axis":{"values":[1,1.5,2],"format":".1f","title":null}},"y2":{"field":"b"},
    "color":{"field":"g","type":"nominal","title":null,"scale":{"domain":["Elite","Trained"],"range":["#377EB8","#E41A1C"]}}}},
  {"width":61,"height":197,"data":{"values":[]},"mark":{"type":"point","opacity":0}},
  {"width":205,"height":197,"data":{"name":"dy_m"},
   "layer":[
    {"mark":{"type":"line","strokeWidth":4.5},"encoding":{"x":{"field":"s","type":"quantitative","scale":{"domain":[9.25,25.75],"nice":false,"zero":false},"axis":{"values":[10,12,14,16,18,20,22,24],"labels":false,"title":null}},"y":{"field":"v","type":"quantitative","scale":{"domain":[3.5,9.26],"nice":false,"zero":false},"axis":{"values":[4,5,6,7,8,9],"title":"cm","titlePadding":25}},"color":{"field":"g","type":"nominal","title":null,"scale":{"domain":["Elite","Trained"],"range":["#377EB8","#E41A1C"]}}}},
    {"mark":{"type":"point","filled":true,"size":45,"opacity":1},"encoding":{"x":{"field":"s","type":"quantitative","scale":{"domain":[9.25,25.75],"nice":false,"zero":false},"axis":{"values":[10,12,14,16,18,20,22,24],"labels":false,"title":null}},"y":{"field":"v","type":"quantitative","scale":{"domain":[3.5,9.26],"nice":false,"zero":false},"axis":{"values":[4,5,6,7,8,9],"title":"cm","titlePadding":25}},"color":{"field":"g","type":"nominal","title":null}}},
    {"data":{"values":[{"t":"Δy"}]},"mark":{"type":"text","fontSize":39,"align":"left","baseline":"alphabetic","color":"black"},"encoding":{"x":{"datum":10.49,"type":"quantitative","scale":{"domain":[9.25,25.75],"nice":false,"zero":false},"axis":{"values":[10,12,14,16,18,20,22,24],"labels":false,"title":null}},"y":{"datum":8.675,"type":"quantitative","scale":{"domain":[3.5,9.26],"nice":false,"zero":false},"axis":{"values":[4,5,6,7,8,9],"title":"cm","titlePadding":25}},"text":{"field":"t","type":"nominal"}}}
   ]},
  {"width":205,"height":197,"data":{"name":"dy_i"},"mark":{"type":"rule","strokeWidth":1.1},
   "encoding":{"x":{"field":"s0","type":"quantitative","scale":{"domain":[9.25,25.75],"nice":false,"zero":false},"axis":{"values":[10,12,14,16,18,20,22,24],"labels":false,"title":null}},"x2":{"field":"s1"},
    "y":{"field":"a","type":"quantitative","scale":{"domain":[3.5,9.26],"nice":false,"zero":false},"axis":{"values":[4,5,6,7,8,9],"title":null}},"y2":{"field":"b"},
    "color":{"field":"g","type":"nominal","title":null,"scale":{"domain":["Elite","Trained"],"range":["#377EB8","#E41A1C"]}}}},

  {"width":203,"height":197,"data":{"values":[]},"mark":{"type":"point","opacity":0}},
  {"width":203,"height":197,"data":{"values":[]},"mark":{"type":"point","opacity":0}},
  {"width":61,"height":197,"data":{"values":[]},"mark":{"type":"point","opacity":0}},
  {"width":205,"height":197,"data":{"name":"al_m"},
   "layer":[
    {"mark":{"type":"line","strokeWidth":4.5},"encoding":{"x":{"field":"s","type":"quantitative","scale":{"domain":[9.25,25.75],"nice":false,"zero":false},"axis":{"values":[10,12,14,16,18,20,22,24],"title":"Speed (km/hr)","titleFontSize":29,"titleX":207,"titleY":64,"titleAlign":"center","titleBaseline":"alphabetic"}},"y":{"field":"v","type":"quantitative","scale":{"domain":[43.45,68.4],"nice":false,"zero":false},"axis":{"values":[45,50,55,60,65],"title":"°","titlePadding":4}},"color":{"field":"g","type":"nominal","title":null,"scale":{"domain":["Elite","Trained"],"range":["#377EB8","#E41A1C"]}}}},
    {"mark":{"type":"point","filled":true,"size":45,"opacity":1},"encoding":{"x":{"field":"s","type":"quantitative","scale":{"domain":[9.25,25.75],"nice":false,"zero":false},"axis":{"values":[10,12,14,16,18,20,22,24],"title":"Speed (km/hr)","titleFontSize":29,"titleX":207,"titleY":64,"titleAlign":"center","titleBaseline":"alphabetic"}},"y":{"field":"v","type":"quantitative","scale":{"domain":[43.45,68.4],"nice":false,"zero":false},"axis":{"values":[45,50,55,60,65],"title":"°","titlePadding":4}},"color":{"field":"g","type":"nominal","title":null}}},
    {"data":{"values":[{"t":"α"}]},"mark":{"type":"text","fontSize":40,"align":"left","baseline":"alphabetic","color":"black"},"encoding":{"x":{"datum":10.25,"type":"quantitative","scale":{"domain":[9.25,25.75],"nice":false,"zero":false},"axis":{"values":[10,12,14,16,18,20,22,24],"title":"Speed (km/hr)","titleFontSize":29,"titleX":207,"titleY":64,"titleAlign":"center","titleBaseline":"alphabetic"}},"y":{"datum":66.63,"type":"quantitative","scale":{"domain":[43.45,68.4],"nice":false,"zero":false},"axis":{"values":[45,50,55,60,65],"title":"°","titlePadding":4}},"text":{"field":"t","type":"nominal"}}}
   ]},
  {"width":205,"height":197,"data":{"name":"al_i"},"mark":{"type":"rule","strokeWidth":1.1},
   "encoding":{"x":{"field":"s0","type":"quantitative","scale":{"domain":[9.25,25.75],"nice":false,"zero":false},"axis":{"values":[10,12,14,16,18,20,22,24],"title":null}},"x2":{"field":"s1"},
    "y":{"field":"a","type":"quantitative","scale":{"domain":[43.45,68.4],"nice":false,"zero":false},"axis":{"values":[45,50,55,60,65],"title":null}},"y2":{"field":"b"},
    "color":{"field":"g","type":"nominal","title":null,"scale":{"domain":["Elite","Trained"],"range":["#377EB8","#E41A1C"]}}}}
]
}
